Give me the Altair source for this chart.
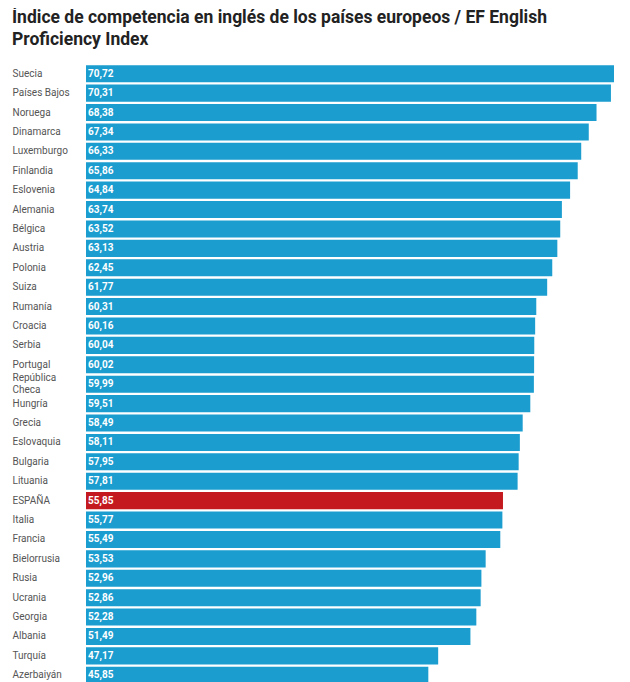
import altair as alt
import pandas as pd

countries = ["Suecia", "Países Bajos", "Noruega", "Dinamarca", "Luxemburgo", "Finlandia",
             "Eslovenia", "Alemania", "Bélgica", "Austria", "Polonia", "Suiza", "Rumanía",
             "Croacia", "Serbia", "Portugal", "República Checa", "Hungría", "Grecia",
             "Eslovaquia", "Bulgaria", "Lituania", "ESPAÑA", "Italia", "Francia",
             "Bielorrusia", "Rusia", "Ucrania", "Georgia", "Albania", "Turquía", "Azerbaiyán"]
values = [70.72, 70.31, 68.38, 67.34, 66.33, 65.86, 64.84, 63.74, 63.52, 63.13, 62.45,
          61.77, 60.31, 60.16, 60.04, 60.02, 59.99, 59.51, 58.49, 58.11, 57.95, 57.81,
          55.85, 55.77, 55.49, 53.53, 52.96, 52.86, 52.28, 51.49, 47.17, 45.85]
highlight = "ESPAÑA"

df = pd.DataFrame({"pais": countries, "valor": values})
df["etiqueta"] = [f"{v:.2f}".replace(".", ",") for v in values]
df["grupo"] = ["España" if c == highlight else "Otro" for c in countries]

y = alt.Y("pais:N", sort=countries, title=None,
          scale=alt.Scale(paddingInner=0.12, paddingOuter=0.06),
          axis=alt.Axis(ticks=False, domain=False, labelAlign="left", labelPadding=74,
                        labelFont="Roboto", labelFontSize=10, labelColor="#555555",
                        labelLineHeight=12,
                        labelOffset=alt.condition("datum.value == 'República Checa'",
                                                  alt.value(-6), alt.value(0)),
                        labelExpr="datum.value == 'República Checa' ? ['República', 'Checa'] : datum.label"))

bars = alt.Chart(df).mark_bar().encode(
    x=alt.X("valor:Q", scale=alt.Scale(domain=[0, 70.72], nice=False, zero=True),
            axis=None),
    y=y,
    color=alt.Color("grupo:N", scale=alt.Scale(domain=["Otro", "España"],
                                               range=["#1b9dcf", "#c41a1f"]), legend=None),
)

labels = alt.Chart(df).mark_text(align="left", baseline="middle", dx=2, color="white",
                                 font="Roboto", fontSize=10, fontWeight="bold").encode(
    x=alt.datum(0),
    y=y,
    text="etiqueta:N",
)

chart = (bars + labels).properties(
    width=528, height=621,
    title=alt.TitleParams(
        ["Índice de competencia en inglés de los países europeos / EF English",
         "Proficiency Index"],
        anchor="start", font="Roboto", fontSize=17.5, fontWeight="bold",
        color="#222222", lineHeight=21.5, offset=16),
    autosize=alt.AutoSizeParams(type="none"),
    padding={"left": 78, "top": 56, "right": 0, "bottom": 0},
).configure_view(stroke=None)

chart.save("out.html", embed_options={"renderer": "svg", "actions": False})
